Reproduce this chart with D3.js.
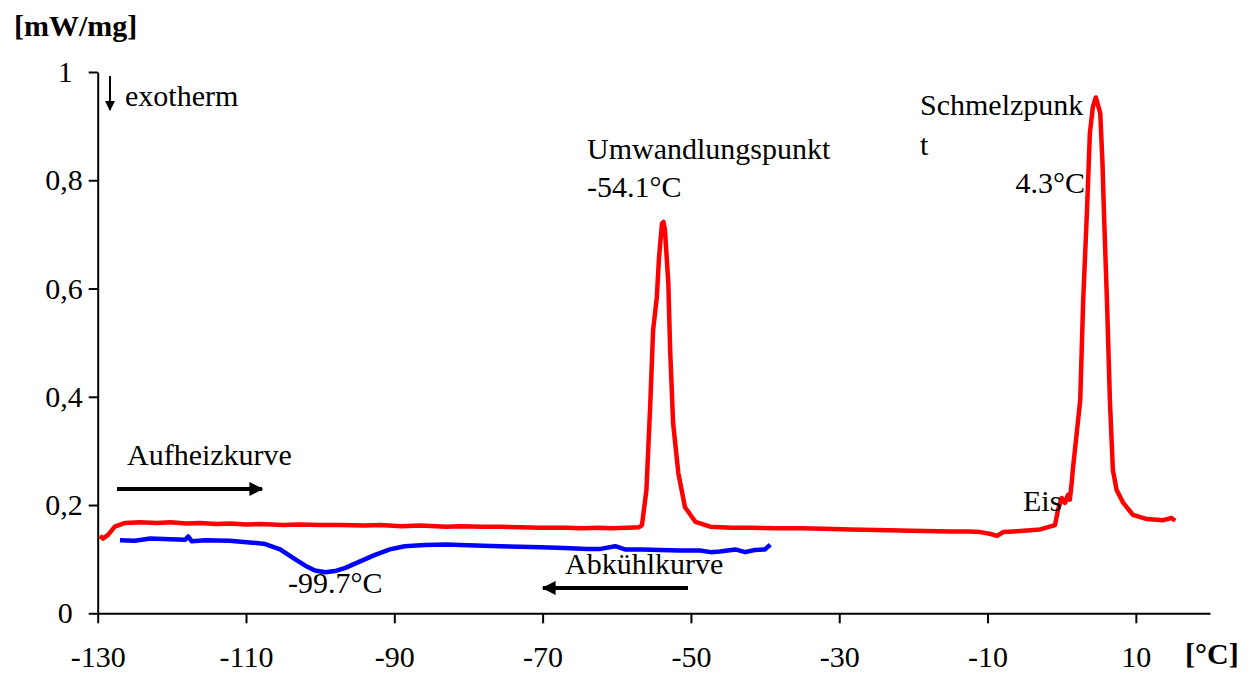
<!DOCTYPE html>
<html>
<head>
<meta charset="utf-8">
<script src="https://cdnjs.cloudflare.com/ajax/libs/d3/7.8.5/d3.min.js"></script>
<style>
  body { margin: 0; background: #fff; }
  svg text { font-family: "Times New Roman", "Liberation Serif", "DejaVu Serif", serif; fill: #000; }
</style>
</head>
<body>
<svg id="chart" width="1257" height="673"></svg>
<script>
// heating curve (Aufheizkurve): [°C, mW/mg]
var heating = [
  [-129.7, 0.143], [-129.3, 0.138], [-128.6, 0.145], [-127.7, 0.160], [-126.3, 0.167],
  [-124.3, 0.168], [-122.0, 0.167], [-120.2, 0.168], [-118.0, 0.166], [-116.2, 0.167],
  [-114.0, 0.165], [-112.1, 0.166], [-110.0, 0.164], [-108.1, 0.165], [-105.0, 0.163],
  [-102.7, 0.164], [-100.0, 0.163], [-97.3, 0.163], [-94.0, 0.162], [-91.9, 0.163],
  [-89.0, 0.161], [-86.5, 0.162], [-83.0, 0.160], [-81.1, 0.161], [-78.0, 0.160],
  [-75.7, 0.160], [-73.0, 0.159], [-70.3, 0.158], [-67.0, 0.158], [-64.8, 0.157],
  [-62.5, 0.158], [-60.8, 0.157], [-58.5, 0.158], [-57.0, 0.159], [-56.6, 0.163],
  [-56.0, 0.228], [-55.5, 0.381], [-55.1, 0.523], [-54.6, 0.584], [-54.3, 0.658],
  [-53.9, 0.720], [-53.7, 0.723], [-53.5, 0.708], [-53.05, 0.610], [-52.8, 0.486],
  [-52.4, 0.351], [-51.7, 0.259], [-50.8, 0.196], [-49.4, 0.169], [-47.4, 0.160],
  [-44.5, 0.158], [-42.0, 0.158], [-38.5, 0.157], [-35.3, 0.157], [-32.0, 0.156],
  [-28.5, 0.155], [-25.0, 0.154], [-21.8, 0.153], [-18.5, 0.152], [-15.0, 0.151],
  [-12.5, 0.151], [-11.0, 0.150], [-9.7, 0.147], [-8.7, 0.143], [-7.9, 0.150],
  [-5.6, 0.152], [-2.9, 0.155], [-0.9, 0.163], [-0.5, 0.191], [0.0, 0.213],
  [0.45, 0.204], [0.85, 0.219], [1.1, 0.210], [1.35, 0.241], [1.5, 0.265],
  [2.5, 0.394], [2.9, 0.579], [3.4, 0.740], [3.8, 0.887], [4.2, 0.935],
  [4.6, 0.953], [5.2, 0.924], [5.5, 0.832], [5.7, 0.740], [6.1, 0.579],
  [6.5, 0.394], [6.9, 0.265], [7.4, 0.228], [8.3, 0.204], [9.6, 0.182],
  [11.5, 0.174], [13.7, 0.172], [14.8, 0.176], [15.3, 0.171]
];

// cooling curve (Abkühlkurve): [°C, mW/mg]
var cooling = [
  [-127.0, 0.135], [-125.0, 0.134], [-122.9, 0.138], [-120.2, 0.137], [-118.2, 0.136],
  [-117.8, 0.142], [-117.3, 0.133], [-115.5, 0.135], [-112.2, 0.134], [-109.5, 0.131],
  [-107.4, 0.128], [-105.4, 0.118], [-103.4, 0.100], [-102.0, 0.088], [-100.7, 0.079],
  [-99.3, 0.076], [-98.0, 0.078], [-96.6, 0.084], [-94.6, 0.096], [-92.6, 0.108],
  [-90.6, 0.118], [-88.6, 0.124], [-85.9, 0.126], [-83.0, 0.127], [-81.1, 0.126],
  [-78.0, 0.125], [-75.7, 0.124], [-73.0, 0.123], [-70.3, 0.122], [-68.0, 0.121],
  [-66.3, 0.120], [-64.0, 0.119], [-62.2, 0.119], [-60.2, 0.124], [-58.9, 0.118],
  [-56.5, 0.118], [-54.2, 0.117], [-51.5, 0.116], [-48.8, 0.116], [-47.3, 0.113],
  [-46.1, 0.114], [-44.0, 0.118], [-42.7, 0.113], [-41.4, 0.117], [-40.0, 0.118],
  [-39.3, 0.127]
];

var xTicks = [-130, -110, -90, -70, -50, -30, -10, 10];
var yTicks = [0, 0.2, 0.4, 0.6, 0.8, 1];

var svg = d3.select("#chart");

var x = d3.scaleLinear().domain([-130, 20]).range([97.7, 1210]);
var y = d3.scaleLinear().domain([0, 1]).range([613.3, 72]);

// axes
var yAxis = svg.append("g")
    .attr("transform", "translate(" + x(-130) + ",0)")
    .call(d3.axisLeft(y).tickValues(yTicks).tickSize(9).tickSizeOuter(0).tickPadding(6)
        .tickFormat(function(d) { return String(d).replace(".", ","); }));

var xAxis = svg.append("g")
    .attr("transform", "translate(0," + y(0) + ")")
    .call(d3.axisBottom(x).tickValues(xTicks).tickSize(10).tickSizeOuter(0).tickPadding(22)
        .tickFormat(function(d) { return d; }));

svg.selectAll("g").attr("font-family", null);
svg.selectAll(".domain, .tick line").attr("stroke", "#000").attr("stroke-width", 2);
svg.selectAll(".tick text").attr("font-size", 30);
// integer labels sit further left in the original
yAxis.selectAll(".tick text").filter(function(d) { return d === 0 || d === 1; }).attr("dx", -10);

// curves
var line = d3.line().x(function(d) { return x(d[0]); }).y(function(d) { return y(d[1]); });

svg.append("path").datum(cooling)
    .attr("d", line).attr("fill", "none")
    .attr("stroke", "#0000ff").attr("stroke-width", 4.5).attr("stroke-linejoin", "round");

svg.append("path").datum(heating)
    .attr("d", line).attr("fill", "none")
    .attr("stroke", "#ff0000").attr("stroke-width", 4.5).attr("stroke-linejoin", "round");

// arrow heads
var defs = svg.append("defs");
defs.append("marker").attr("id", "head")
    .attr("viewBox", "0 0 10 10").attr("refX", 9).attr("refY", 5)
    .attr("markerUnits", "userSpaceOnUse")
    .attr("markerWidth", 26).attr("markerHeight", 14).attr("orient", "auto")
    .append("path").attr("d", "M0,0 L10,5 L0,10 Z").attr("fill", "#000");
defs.append("marker").attr("id", "headSmall")
    .attr("viewBox", "0 0 10 10").attr("refX", 9).attr("refY", 5)
    .attr("markerUnits", "userSpaceOnUse")
    .attr("markerWidth", 10).attr("markerHeight", 10).attr("orient", "auto")
    .append("path").attr("d", "M0,0 L10,5 L0,10 Z").attr("fill", "#000");

svg.append("line").attr("x1", 117).attr("y1", 489).attr("x2", 262).attr("y2", 489)
    .attr("stroke", "#000").attr("stroke-width", 4).attr("marker-end", "url(#head)");
svg.append("line").attr("x1", 688).attr("y1", 588).attr("x2", 543).attr("y2", 588)
    .attr("stroke", "#000").attr("stroke-width", 4).attr("marker-end", "url(#head)");
svg.append("line").attr("x1", 110).attr("y1", 76).attr("x2", 110).attr("y2", 110)
    .attr("stroke", "#000").attr("stroke-width", 2).attr("marker-end", "url(#headSmall)");

// labels
function label(txt, px, py, opts) {
  opts = opts || {};
  return svg.append("text").attr("x", px).attr("y", py)
      .attr("font-size", opts.size || 30)
      .attr("font-weight", opts.bold ? "bold" : null)
      .attr("text-anchor", opts.anchor || "start")
      .text(txt);
}

label("[mW/mg]", 14, 36, { bold: true });
label("[°C]", 1185, 664, { bold: true });
label("exotherm", 125, 106);
label("Umwandlungspunkt", 587, 159);
label("-54.1°C", 587, 197);
label("Schmelzpunk", 920, 115);
label("t", 920, 155);
label("4.3°C", 1085, 193, { anchor: "end" });
label("Eis", 1023, 511);
label("Aufheizkurve", 127, 465);
label("Abkühlkurve", 565, 574);
label("-99.7°C", 288, 593);
</script>
</body>
</html>
